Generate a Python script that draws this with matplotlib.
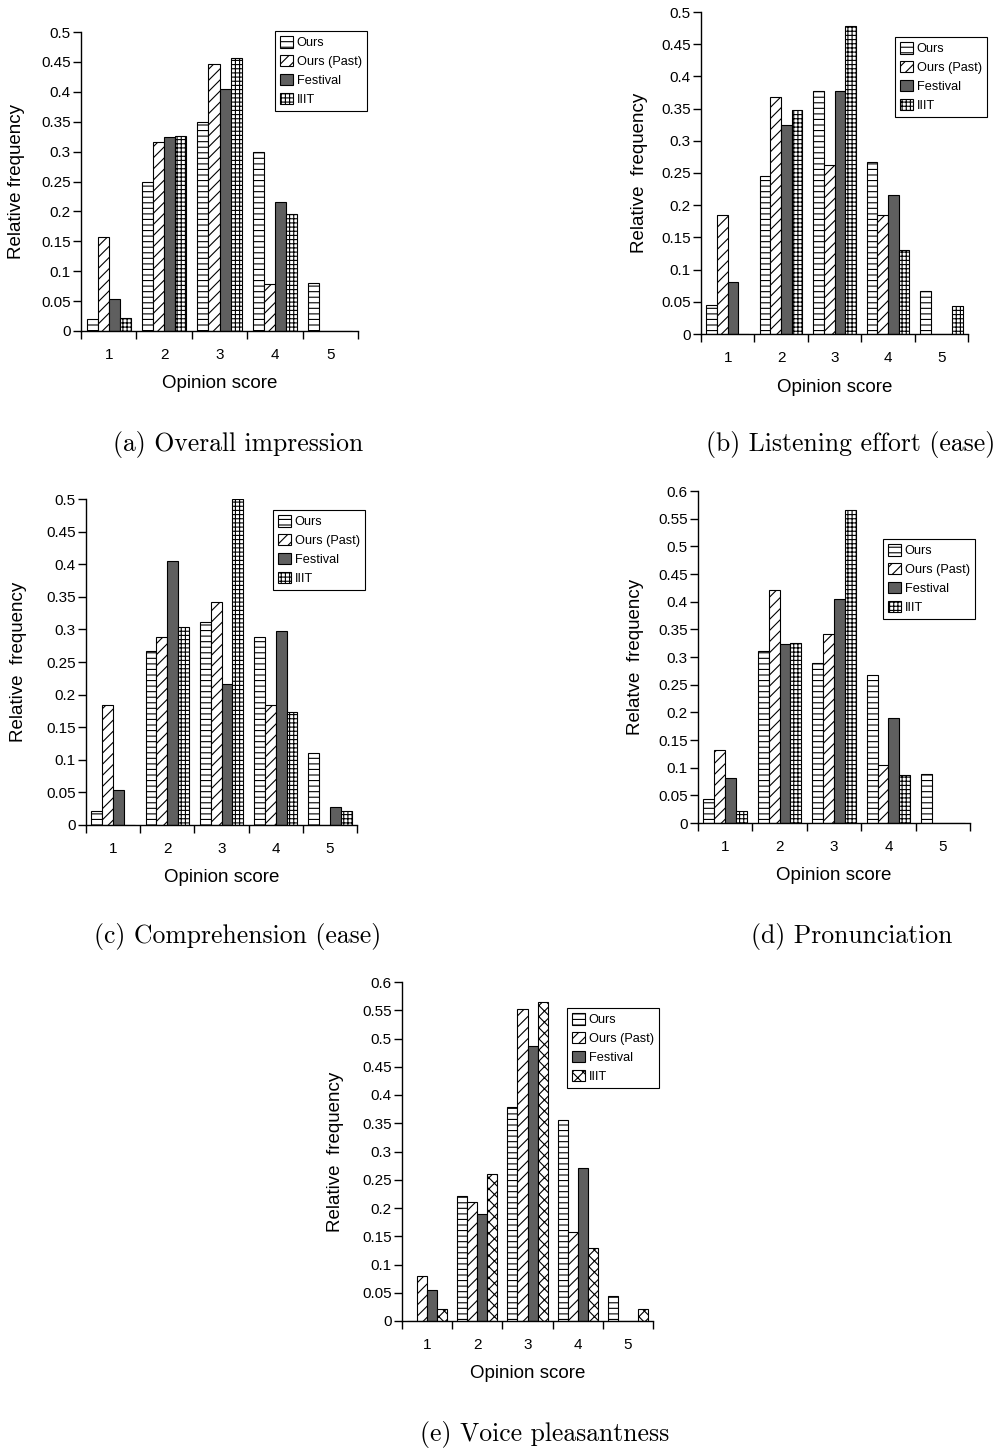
import matplotlib
matplotlib.use('Agg')
import matplotlib.pyplot as plt
import numpy as np
from matplotlib.patches import Patch
from matplotlib.ticker import FixedLocator, FixedFormatter

plt.rcParams['font.family'] = ['Liberation Sans', 'DejaVu Sans']
plt.rcParams['hatch.linewidth'] = 0.8

# ---------------- data ----------------
scores = [1, 2, 3, 4, 5]
series_names = ['Ours', 'Ours (Past)', 'Festival', 'IIIT']

# (a) Overall impression
a_ours     = [0.020, 0.250, 0.350, 0.300, 0.080]
a_past     = [0.158, 0.316, 0.447, 0.079, 0.000]
a_festival = [0.054, 0.324, 0.405, 0.216, 0.000]
a_iiit     = [0.022, 0.326, 0.457, 0.196, 0.000]

# (b) Listening effort (ease)
b_ours     = [0.045, 0.245, 0.378, 0.267, 0.067]
b_past     = [0.185, 0.368, 0.263, 0.185, 0.000]
b_festival = [0.081, 0.324, 0.378, 0.216, 0.000]
b_iiit     = [0.000, 0.348, 0.478, 0.130, 0.043]

# (c) Comprehension (ease)
c_ours     = [0.022, 0.267, 0.311, 0.289, 0.111]
c_past     = [0.184, 0.289, 0.342, 0.184, 0.000]
c_festival = [0.054, 0.405, 0.216, 0.297, 0.027]
c_iiit     = [0.000, 0.304, 0.500, 0.174, 0.022]

# (d) Pronunciation
d_ours     = [0.044, 0.311, 0.289, 0.267, 0.089]
d_past     = [0.132, 0.421, 0.342, 0.105, 0.000]
d_festival = [0.081, 0.324, 0.405, 0.189, 0.000]
d_iiit     = [0.022, 0.326, 0.565, 0.087, 0.000]

# (e) Voice pleasantness
e_ours     = [0.000, 0.222, 0.378, 0.356, 0.044]
e_past     = [0.079, 0.211, 0.553, 0.158, 0.000]
e_festival = [0.054, 0.189, 0.486, 0.270, 0.000]
e_iiit     = [0.022, 0.261, 0.565, 0.130, 0.022]

captions = ['(a) Overall impression', '(b) Listening effort (ease)',
            '(c) Comprehension (ease)', '(d) Pronunciation',
            '(e) Voice pleasantness']
ylabels = ['Relative frequency', 'Relative  frequency', 'Relative  frequency',
           'Relatve  frequency', 'Relative  frequency']
ymaxes = [0.5, 0.5, 0.5, 0.6, 0.6]

panel_data = [
    [a_ours, a_past, a_festival, a_iiit],
    [b_ours, b_past, b_festival, b_iiit],
    [c_ours, c_past, c_festival, c_iiit],
    [d_ours, d_past, d_festival, d_iiit],
    [e_ours, e_past, e_festival, e_iiit],
]

# ---------------- layout (pixels) ----------------
W, H = 1002, 1449
# left, right, top, bottom of axes in pixels
axes_px = [
    (81, 358, 32, 331),
    (701, 968, 12, 334),
    (86, 357, 499, 825),
    (698, 970, 491, 823),
    (402, 653, 982, 1321),
]
legend_px = [(275, 31), (895, 37), (273, 510), (883, 539), (567, 1008)]
ylabel_x_px = [17, 639, 19, 635, 336]
xlabel_y_px = [384, 387, 878, 875, 1374]
caption_px = [(238, 444), (851, 444), (238, 936), (852, 936), (545, 1434)]

festival_color = '#5f5f5f'

def styles(panel_idx):
    iiit_hatch = 'xxx' if panel_idx == 4 else '++++'
    return [
        dict(facecolor='white', hatch='---'),
        dict(facecolor='white', hatch='///'),
        dict(facecolor=festival_color, hatch=None),
        dict(facecolor='white', hatch=iiit_hatch),
    ]

fig = plt.figure(figsize=(W / 100, H / 100), dpi=100)

bw = 0.2
offsets = [-1.5 * bw, -0.5 * bw, 0.5 * bw, 1.5 * bw]
x = np.array(scores, dtype=float)

for i, data in enumerate(panel_data):
    l, r, t, b = axes_px[i]
    ax = fig.add_axes([l / W, 1 - b / H, (r - l) / W, (b - t) / H])
    st = styles(i)
    for k, vals in enumerate(data):
        ax.bar(x + offsets[k], vals, width=bw, edgecolor='black', linewidth=0.8,
               **st[k])
    ax.set_xlim(0.5, 5.5)
    ax.set_ylim(0, ymaxes[i])
    for s in ['top', 'right']:
        ax.spines[s].set_visible(False)
    ax.spines['left'].set_linewidth(1.0)
    ax.spines['bottom'].set_linewidth(1.0)
    # x ticks at group boundaries, labels at centers
    ax.xaxis.set_major_locator(FixedLocator(np.arange(0.5, 5.6, 1.0)))
    ax.xaxis.set_major_formatter(FixedFormatter([''] * 6))
    ax.xaxis.set_minor_locator(FixedLocator(x))
    ax.xaxis.set_minor_formatter(FixedFormatter([str(s) for s in scores]))
    ax.tick_params(axis='x', which='major', direction='out', length=5.5, width=1.0)
    ax.tick_params(axis='x', which='minor', length=0, pad=12, labelsize=11)
    yt = np.round(np.arange(0, ymaxes[i] + 1e-9, 0.05), 2)
    ax.set_yticks(yt)
    ax.set_yticklabels([f'{v:g}' for v in yt])
    ax.tick_params(axis='y', direction='out', length=5.5, width=1.0, pad=2, labelsize=11)
    ax.set_xlabel('Opinion score', fontsize=13.5)
    ax.xaxis.set_label_coords(0.5, 1 - (xlabel_y_px[i] - t) / (b - t))
    ax.xaxis.label.set_va('center')
    ax.set_ylabel(ylabels[i], fontsize=13.5)
    ax.yaxis.set_label_coords((ylabel_x_px[i] - l) / (r - l), 0.5)
    ax.yaxis.label.set_va('center')

    handles = [Patch(edgecolor='black', linewidth=0.8, **st[k]) for k in range(4)]
    lx, ly = legend_px[i]
    leg = fig.legend(handles, series_names, loc='upper left',
                     bbox_to_anchor=(lx / W, 1 - ly / H), bbox_transform=fig.transFigure,
                     borderaxespad=0, fancybox=False, framealpha=1, edgecolor='black',
                     fontsize=9.2, handlelength=1.0, handleheight=1.0,
                     handletextpad=0.3, labelspacing=0.45, borderpad=0.4)
    leg.get_frame().set_linewidth(0.8)

    cx, cy = caption_px[i]
    fig.text(cx / W, 1 - cy / H, captions[i], ha='center', va='center',
             fontsize=18.5, family='cmr10')

fig.savefig('out.png', dpi=100)
